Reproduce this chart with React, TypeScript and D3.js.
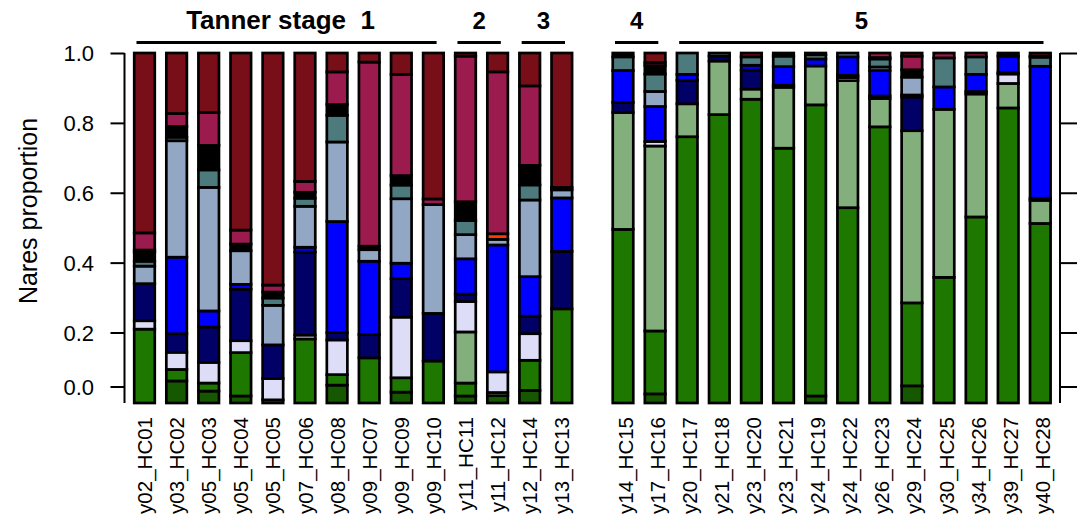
import React from "react";
import * as d3 from "d3";

// Sample labels, in plotting order (two panels of 14 bars each)
const samples = [
  "y02_HC01", "y03_HC02", "y05_HC03", "y05_HC04", "y05_HC05", "y07_HC06", "y08_HC08",
  "y09_HC07", "y09_HC09", "y09_HC10", "y11_HC11", "y11_HC12", "y12_HC14", "y13_HC13",
  "y14_HC15", "y17_HC16", "y20_HC17", "y21_HC18", "y23_HC20", "y23_HC21", "y24_HC19",
  "y24_HC22", "y26_HC23", "y29_HC24", "y30_HC25", "y34_HC26", "y39_HC27", "y40_HC28",
];

// Tanner stage groups (index of first and last sample)
const stageGroups = [
  { label: "Tanner stage  1", first: 0, last: 9 },
  { label: "2", first: 10, last: 11 },
  { label: "3", first: 12, last: 13 },
  { label: "4", first: 14, last: 15 },
  { label: "5", first: 16, last: 27 },
];

// Relative abundance of each community type per sample (stacked bottom to top)
const darkGreen = [0, .063, .034, .02, 0, 0, .051, 0, .031, 0, .02, .021, .036, 0, 0, .026, 0, 0, 0, 0, .02, 0, 0, .049, 0, 0, 0, 0];
const green = [.211, .033, .023, .124, .009, .183, .03, .129, .041, .12, .037, 0, .086, .269, .496, .18, .76, .824, .867, .728, .831, .558, .789, .237, .359, .531, .843, .513];
const lightGreen = [0, 0, 0, 0, 0, 0, 0, 0, 0, 0, .146, .009, 0, 0, .334, .529, .094, .153, .029, .174, .111, .363, .081, .492, .48, .351, .07, .066];
const lavender = [.024, .049, .059, .034, .061, .011, .099, 0, .173, 0, .087, .059, .076, 0, 0, .013, 0, 0, 0, 0, 0, .009, 0, 0, 0, 0, .027, 0];
const navy = [.106, .053, .101, .147, .096, .237, .021, .067, .11, .136, .021, 0, .05, .164, .029, 0, .067, .014, .054, .006, 0, .006, .007, .096, 0, .007, .004, .006];
const blue = [0, .219, .046, .014, 0, .014, .317, .209, .044, 0, .101, .363, .113, .153, .091, .1, .017, 0, .014, .053, .02, .053, .073, .006, .064, .049, .047, .377];
const steel = [.05, .333, .353, .096, .113, .117, .227, .033, .184, .311, .069, .016, .219, .023, 0, .043, 0, 0, 0, 0, 0, 0, .01, .051, 0, 0, 0, 0];
const teal = [.014, .01, .05, 0, .021, .023, .076, 0, .039, 0, .04, 0, .043, 0, .039, .05, .061, .009, .024, .03, .012, .011, .023, 0, .083, .05, 0, .026];
const black = [.026, .031, .07, .019, .017, .017, .031, .01, .027, 0, .054, 0, .056, .007, .011, .024, 0, 0, 0, .009, .005, 0, .004, .021, 0, 0, .009, .003];
const orange = [.006, 0, 0, 0, 0, 0, 0, 0, 0, 0, 0, .016, 0, 0, 0, 0, 0, 0, 0, 0, 0, 0, 0, 0, 0, 0, 0, 0];
const magenta = [.049, .037, .094, .04, .02, .031, .093, .526, .289, .016, .416, .463, .227, 0, 0, .009, 0, 0, 0, 0, 0, 0, .013, .039, .014, .011, 0, 0];
const darkRed = [.514, .173, .17, .506, .663, .367, .054, .026, .061, .417, .009, .054, .094, .384, 0, .027, 0, 0, .011, 0, 0, 0, 0, .009, 0, 0, 0, .009];

const layerKeys = ["darkGreen", "green", "lightGreen", "lavender", "navy", "blue", "steel", "teal", "black", "orange", "magenta", "darkRed"];
const layerValues = [darkGreen, green, lightGreen, lavender, navy, blue, steel, teal, black, orange, magenta, darkRed];
const layerColors = ["#165800", "#1E7800", "#82AF7B", "#DDDDF7", "#000066", "#0000FF", "#91A7C3", "#4D7A7C", "#000000", "#FF3A00", "#9B1B4F", "#780F18"];

const tickValues = [0, 0.2, 0.4, 0.6, 0.8, 1.0];

const FONT = "'Liberation Sans', Arial, Helvetica, sans-serif";

export default function App() {
  const W = 1078, H = 515;
  const top = 53, bottom = 403;

  const rows = samples.map((s, i) => {
    const r: Record<string, any> = { sample: s };
    layerKeys.forEach((k, j) => (r[k] = layerValues[j][i]));
    return r;
  });
  const series = d3.stack().keys(layerKeys).offset(d3.stackOffsetExpand)(rows as any);

  const y = d3.scaleLinear().domain([0, 1]).range([bottom, top]);
  // axis positions as printed on the frame
  const yAxis = d3.scaleLinear().domain([0, 0.2, 1]).range([387, 333, 53.5]);

  const step = 32.1, pad = 0.36;
  const leftBand = d3.scaleBand<string>().domain(samples.slice(0, 14))
    .range([144.5 - step / 2, 144.5 - step / 2 + 14 * step]).paddingInner(pad).paddingOuter(pad / 2);
  const rightBand = d3.scaleBand<string>().domain(samples.slice(14))
    .range([623 - step / 2, 623 - step / 2 + 14 * step]).paddingInner(pad).paddingOuter(pad / 2);
  const xOf = (i: number) => (i < 14 ? leftBand(samples[i])! : rightBand(samples[i])!);
  const bw = leftBand.bandwidth();
  const cx = (i: number) => xOf(i) + bw / 2;

  const leftAxisX = 124.5, rightAxisX = 1060;

  return (
    <svg width={W} height={H} style={{ position: "absolute", left: 0, top: 0, background: "#fff" }} fontFamily={FONT}>
      {/* stacked bars */}
      {series.map((layer, j) => (
        <g key={layerKeys[j]}>
          {layer.map((d, i) => {
            const h = y(d[0]) - y(d[1]);
            if (h <= 0.01) return null;
            return (
              <rect key={i} x={xOf(i)} y={y(d[1])} width={bw} height={h}
                fill={layerColors[j]} stroke="#000" strokeWidth={2.7} />
            );
          })}
        </g>
      ))}

      {/* left axis */}
      <line x1={leftAxisX} x2={leftAxisX} y1={top} y2={bottom} stroke="#000" strokeWidth={2} />
      {tickValues.map((t) => (
        <g key={"l" + t}>
          <line x1={leftAxisX - 14} x2={leftAxisX} y1={yAxis(t)} y2={yAxis(t)} stroke="#000" strokeWidth={2} />
          <text x={94} y={yAxis(t)} fontSize={22} textAnchor="end" dominantBaseline="central">{t.toFixed(1)}</text>
        </g>
      ))}

      {/* right axis */}
      <line x1={rightAxisX} x2={rightAxisX} y1={top} y2={bottom} stroke="#000" strokeWidth={2} />
      {tickValues.map((t) => (
        <line key={"r" + t} x1={rightAxisX} x2={rightAxisX + 17} y1={yAxis(t)} y2={yAxis(t)} stroke="#000" strokeWidth={2} />
      ))}

      <text transform={`translate(28,211) rotate(-90)`} fontSize={25} textAnchor="middle" dominantBaseline="central">Nares proportion</text>

      {/* sample labels */}
      {samples.map((s, i) => (
        <text key={s} transform={`translate(${cx(i) + (i < 14 ? 0 : 2)},417) rotate(-90)`} fontSize={20.5} textAnchor="end" dominantBaseline="central">{s}</text>
      ))}

      {/* stage headers */}
      {stageGroups.map((g) => {
        const x1 = cx(g.first) - 0.25 * step;
        const x2 = cx(g.last) + 0.1 * step;
        const isMain = g.first === 0;
        return (
          <g key={g.label}>
            <line x1={x1} x2={x2} y1={42.5} y2={42.5} stroke="#000" strokeWidth={3} />
            <text x={(x1 + x2) / 2 - (isMain ? 6 : 0)} y={28.5} fontSize={isMain ? 26 : 24} fontWeight="bold" textAnchor="middle" style={{ whiteSpace: "pre" }}>{g.label}</text>
          </g>
        );
      })}
    </svg>
  );
}
